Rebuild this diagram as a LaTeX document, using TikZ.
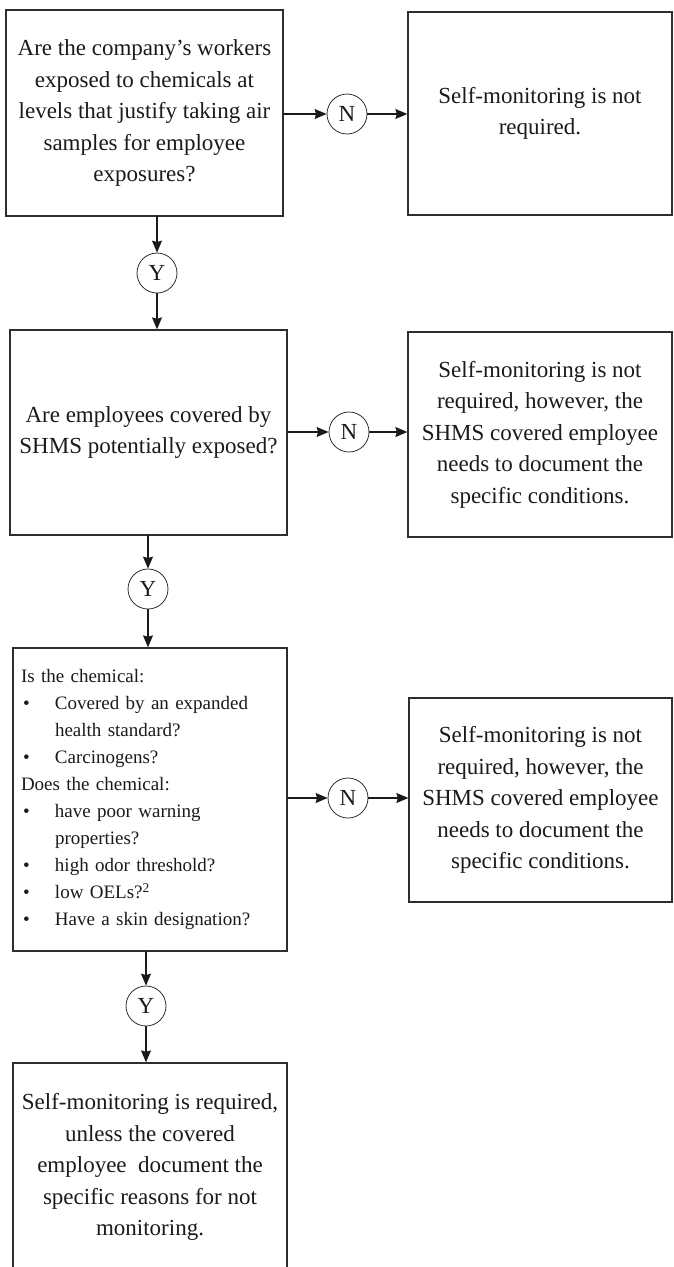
\documentclass[tikz,border=0pt]{standalone}
\usepackage{fontspec}
\setmainfont{Liberation Serif}
\usepackage{xcolor}
\usepackage{tikz}
\usetikzlibrary{arrows.meta,positioning}
\definecolor{ink}{HTML}{1A1A1A}
\definecolor{frame}{HTML}{2E2E2E}
\newcommand{\bul}{\makebox[34pt][l]{\hspace{2pt}\textbullet}}
\newcommand{\ind}{\hspace*{34pt}}

\begin{document}
\begin{tikzpicture}[x=1pt,y=-1pt,line cap=round,
  box/.style={draw=frame,line width=1.3pt,inner sep=0pt,align=center,text=ink,
    font=\fontsize{23}{31.5}\selectfont},
  yn/.style={draw=frame,line width=0.8pt,circle,minimum size=40pt,inner sep=0pt,
    text=ink,font=\fontsize{23}{24}\selectfont},
  arr/.style={draw=ink,line width=1.3pt,-{Stealth[length=12pt,width=10pt,inset=1.5pt]}}]
  \useasboundingbox (0,0) rectangle (673,1267);
  % questions on the left
  \node[box,minimum width=277pt,minimum height=206pt] (q1) at (144.5,113)
    {Are the company’s workers\\exposed to chemicals at\\levels that justify taking air\\samples for employee\\exposures?};
  \node[box,minimum width=277pt,minimum height=205pt] (q2) at (148.5,432.5)
    {Are employees covered by\\SHMS potentially exposed?};
  \node[box,align=left,text width=258pt,inner xsep=8pt,minimum height=303pt,
    font=\fontsize{19}{27}\selectfont] (q3) at (150,799.5)
    {Is the chemical:\\
     \bul Covered by an expanded\\
     \ind health standard?\\
     \bul Carcinogens?\\
     Does the chemical:\\
     \bul have poor warning\\
     \ind properties?\\
     \bul high odor threshold?\\
     \bul low OELs?\textsuperscript{2}\\
     \bul Have a skin designation?};
  \node[box,minimum width=274pt,minimum height=208pt] (fin) at (150,1167)
    {Self-monitoring is required,\\unless the covered\\employee\ \ document the\\specific reasons for not\\monitoring.};
  % outcomes on the right
  \node[box,minimum width=264pt,minimum height=203pt] (r1) at (540,113.5)
    {Self-monitoring is not\\required.};
  \node[box,minimum width=264pt,minimum height=205pt] (r2) at (540,434.5)
    {Self-monitoring is not\\required, however, the\\SHMS covered employee\\needs to document the\\specific conditions.};
  \node[box,minimum width=263pt,minimum height=204pt] (r3) at (540.5,800)
    {Self-monitoring is not\\required, however, the\\SHMS covered employee\\needs to document the\\specific conditions.};
  % yes / no marks
  \node[yn] (n1) at (347,114) {N};
  \node[yn] (n2) at (349,432) {N};
  \node[yn] (n3) at (348,798) {N};
  \node[yn] (y1) at (157,273) {Y};
  \node[yn] (y2) at (148,589) {Y};
  \node[yn] (y3) at (146,1006) {Y};
  % connectors
  \draw[arr] (q1.east |- n1) -- (n1);
  \draw[arr] (n1) -- (r1.west |- n1);
  \draw[arr] (q2.east |- n2) -- (n2);
  \draw[arr] (n2) -- (r2.west |- n2);
  \draw[arr] (q3.east |- n3) -- (n3);
  \draw[arr] (n3) -- (r3.west |- n3);
  \draw[arr] (q1.south -| y1) -- (y1);
  \draw[arr] (y1) -- (q2.north -| y1);
  \draw[arr] (q2.south -| y2) -- (y2);
  \draw[arr] (y2) -- (q3.north -| y2);
  \draw[arr] (q3.south -| y3) -- (y3);
  \draw[arr] (y3) -- (fin.north -| y3);
\end{tikzpicture}
\end{document}
